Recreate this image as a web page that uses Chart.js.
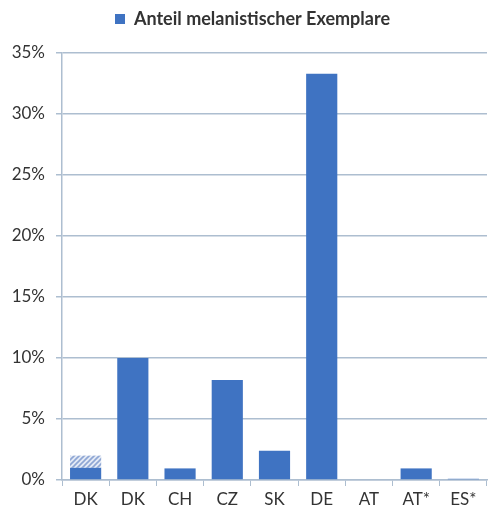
<!DOCTYPE html>
<html>
<head>
<meta charset="utf-8">
<script src="https://cdn.jsdelivr.net/npm/chart.js@4/dist/chart.umd.min.js"></script>
<style>
html,body{margin:0;padding:0;background:#fff;}
#wrap{width:488px;height:514px;position:relative;}
</style>
</head>
<body>
<div id="wrap"><canvas id="c"></canvas></div>
<script>
const categories = ["DK","DK","CH","CZ","SK","DE","AT","AT*","ES*"];
const melanisticShare = [1.0, 10.0, 0.95, 8.2, 2.4, 33.3, 0, 0.95, 0.1];
const uncertainShare = [1.0, 0, 0, 0, 0, 0, 0, 0, 0];
const yTicks = [0,5,10,15,20,25,30,35];
const seriesLabel = "Anteil melanistischer Exemplare";

function hatch(){
  const c = document.createElement('canvas');
  c.width = 5; c.height = 5;
  const g = c.getContext('2d');
  g.fillStyle = '#e4eaf5';
  g.fillRect(0,0,5,5);
  g.strokeStyle = '#8ea6d4';
  g.lineWidth = 1.6;
  g.beginPath();
  g.moveTo(-1,6); g.lineTo(6,-1);
  g.moveTo(-1,1); g.lineTo(1,-1);
  g.moveTo(4,6); g.lineTo(6,4);
  g.stroke();
  return g.createPattern(c,'repeat');
}

const textColor = '#333333';
const gridColor = '#adbed0';
const tickFont = {family:'Lato, "Liberation Sans", sans-serif', size:17};
const legendFont = {family:'Lato, "Liberation Sans", sans-serif', size:18, weight:'bold'};

const legendGap = {
  id:'legendGap',
  afterInit(chart){
    const lg = chart.legend;
    if(!lg) return;
    const orig = lg.fit;
    lg.fit = function(){ orig.call(this); this.height += 15; };
  },
  afterLayout(chart){
    const lg = chart.legend;
    if(!lg) return;
    lg.left += 9; lg.right += 9;
  }
};

new Chart(document.getElementById('c'), {
  type:'bar',
  data:{
    labels:categories,
    datasets:[
      {label:seriesLabel, data:melanisticShare, backgroundColor:'#3f73c2', borderWidth:0,
       categoryPercentage:1.0, barPercentage:0.66},
      {label:'unsicher', data:uncertainShare, backgroundColor:hatch(), borderWidth:0,
       categoryPercentage:1.0, barPercentage:0.66}
    ]
  },
  plugins:[legendGap],
  options:{
    responsive:true, maintainAspectRatio:false, animation:false,
    layout:{padding:{left:0,right:1,top:0,bottom:0}},
    plugins:{
      legend:{
        position:'top',
        labels:{
          filter:(item)=>item.datasetIndex===0,
          boxWidth:10, boxHeight:10, color:textColor, font:legendFont, padding:10
        }
      },
      tooltip:{enabled:false}
    },
    scales:{
      x:{
        stacked:true,
        grid:{drawOnChartArea:false, drawTicks:true, tickLength:6, color:gridColor, offset:true},
        border:{display:true,color:gridColor,width:1.5},
        ticks:{color:textColor,font:tickFont,padding:3,maxRotation:0,autoSkip:false},
        afterFit:(s)=>{s.height=34;}
      },
      y:{
        stacked:true,
        min:0,max:35,
        afterBuildTicks:(s)=>{s.ticks=yTicks.map(v=>({value:v}));},
        grid:{color:gridColor, lineWidth:1.5, tickLength:6},
        border:{display:true,color:gridColor,width:1.5},
        ticks:{color:textColor,font:tickFont,padding:11,callback:(v)=>v+'%'},
        afterFit:(s)=>{s.width=62;}
      }
    }
  }
});
</script>
</body>
</html>
